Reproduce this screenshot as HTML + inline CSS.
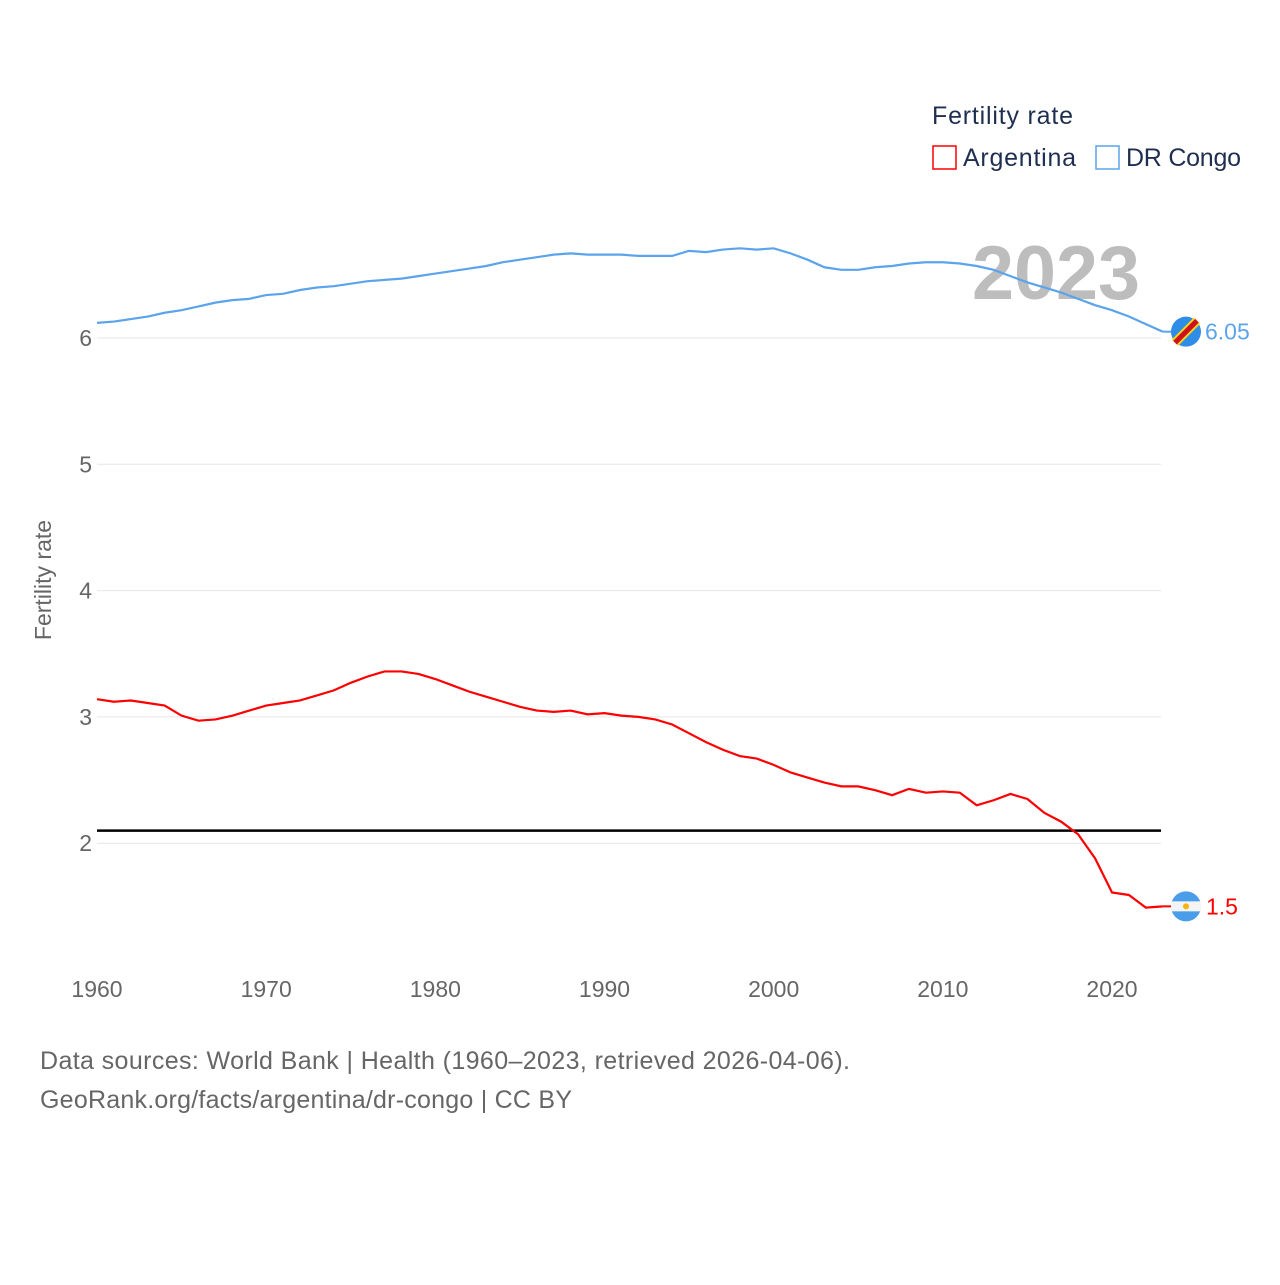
<!DOCTYPE html>
<html><head><meta charset="utf-8">
<style>
body{margin:0;background:#fff;font-family:"Liberation Sans",sans-serif;}
svg text{font-family:"Liberation Sans",sans-serif;}
</style></head>
<body>
<svg width="1280" height="1280" id="chart">
<text x="932" y="124" font-size="25" fill="#1f2f4f" textLength="141">Fertility rate</text>
<g><rect x="933" y="146" width="23" height="23" fill="none" stroke="#ff0000" stroke-width="1.5"/><text x="963" y="166" font-size="25" fill="#1f2f4f" textLength="113">Argentina</text></g>
<g><rect x="1096" y="146" width="23" height="23" fill="none" stroke="#5ba4ec" stroke-width="1.5"/><text x="1126" y="166" font-size="25" fill="#1f2f4f" textLength="115">DR Congo</text></g>
<text x="972" y="299" font-size="76" font-weight="bold" fill="#bdbdbd" textLength="168" lengthAdjust="spacingAndGlyphs">2023</text>
<g id="grid"></g>
<g id="xt"></g>
<text transform="translate(51,580) rotate(-90)" font-size="23" fill="#666" text-anchor="middle">Fertility rate</text>
<g id="series"></g>
<text x="40" y="1069" font-size="25" fill="#666" textLength="810">Data sources: World Bank | Health (1960–2023, retrieved 2026-04-06).</text>
<text x="40" y="1108" font-size="25" fill="#666" textLength="532">GeoRank.org/facts/argentina/dr-congo | CC BY</text>
</svg>
<script>
const years=[];for(let y=1960;y<=2023;y++)years.push(y);
const argentina=[3.14,3.12,3.13,3.11,3.09,3.01,2.97,2.98,3.01,3.05,3.09,3.11,3.13,3.17,3.21,3.27,3.32,3.36,3.36,3.34,3.30,3.25,3.20,3.16,3.12,3.08,3.05,3.04,3.05,3.02,3.03,3.01,3.00,2.98,2.94,2.87,2.80,2.74,2.69,2.67,2.62,2.56,2.52,2.48,2.45,2.45,2.42,2.38,2.43,2.40,2.41,2.40,2.30,2.34,2.39,2.35,2.24,2.17,2.07,1.88,1.61,1.59,1.49,1.50];
const drcongo=[6.12,6.13,6.15,6.17,6.20,6.22,6.25,6.28,6.30,6.31,6.34,6.35,6.38,6.40,6.41,6.43,6.45,6.46,6.47,6.49,6.51,6.53,6.55,6.57,6.60,6.62,6.64,6.66,6.67,6.66,6.66,6.66,6.65,6.65,6.65,6.69,6.68,6.70,6.71,6.70,6.71,6.67,6.62,6.56,6.54,6.54,6.56,6.57,6.59,6.60,6.60,6.59,6.57,6.54,6.49,6.44,6.40,6.36,6.31,6.26,6.22,6.17,6.11,6.05];
const yTicks=[2,3,4,5,6];
const xTicks=[1960,1970,1980,1990,2000,2010,2020];
const replacement=2.1;
const NS="http://www.w3.org/2000/svg";
const X=y=>97+(y-1960)*(1015/60);
const Y=v=>338-(v-6)*126.3;
function mk(t,a,p){const e=document.createElementNS(NS,t);for(const k in a)e.setAttribute(k,a[k]);p.appendChild(e);return e;}
const g=document.getElementById('grid');
yTicks.forEach(v=>{
 const l=mk('line',{x1:97,x2:1161,y1:Y(v),y2:Y(v),stroke:'#e6e6e6','stroke-width':1},g);
 
 
 const t=mk('text',{x:92,y:Y(v)+8,'font-size':23,fill:'#666','text-anchor':'end'},g);t.textContent=v;
 
 
});
const xt=document.getElementById('xt');
xTicks.forEach(v=>{
 const t=mk('text',{x:X(v),y:997,'font-size':23,fill:'#666','text-anchor':'middle'},xt);t.textContent=v;
 
 
});
const s=document.getElementById('series');
const rl=mk('line',{x1:97,x2:1161,y1:Y(replacement),y2:Y(replacement),stroke:'#000','stroke-width':2.5},s);


function line(vals,col,name){
 const p=mk('polyline',{points:vals.map((v,i)=>X(years[i])+','+Y(v)).join(' '),fill:'none',stroke:col,'stroke-width':2.2},s);
 
 
}
line(drcongo,'#5ba4ec','dr-congo-line');
line(argentina,'#ff0000','argentina-line');
const last=years.length-1;
const cy1=Y(drcongo[last]), cx=1186;
const gm=mk('g',{},s);


mk('line',{x1:X(2023),x2:cx-14,y1:cy1,y2:cy1,stroke:'#5ba4ec','stroke-width':2},gm);
mk('circle',{cx:cx,cy:cy1,r:15,fill:'#2e8de6'},gm);
mk('line',{x1:cx-11,y1:cy1+11,x2:cx+11,y2:cy1-11,stroke:'#f7d618','stroke-width':9},gm);
mk('line',{x1:cx-11,y1:cy1+11,x2:cx+11,y2:cy1-11,stroke:'#ce1021','stroke-width':5},gm);
const l1=mk('text',{x:1205,y:cy1+8,'font-size':23,fill:'#5ba4ec'},s);l1.textContent=drcongo[last].toFixed(2);


const cy2=Y(argentina[last]);
const ga=mk('g',{},s);


mk('line',{x1:X(2023),x2:cx-14,y1:cy2,y2:cy2,stroke:'#ff0000','stroke-width':2},ga);
mk('circle',{cx:cx,cy:cy2,r:15,fill:'#4a9de8'},ga);
mk('rect',{x:cx-15,y:cy2-5,width:30,height:10,fill:'#f4f4f4'},ga);
mk('circle',{cx:cx,cy:cy2,r:3,fill:'#f6b40e'},ga);
const l2=mk('text',{x:1206,y:cy2+8,'font-size':23,fill:'#ff0000'},s);l2.textContent=argentina[last];


</script>
</body></html>
